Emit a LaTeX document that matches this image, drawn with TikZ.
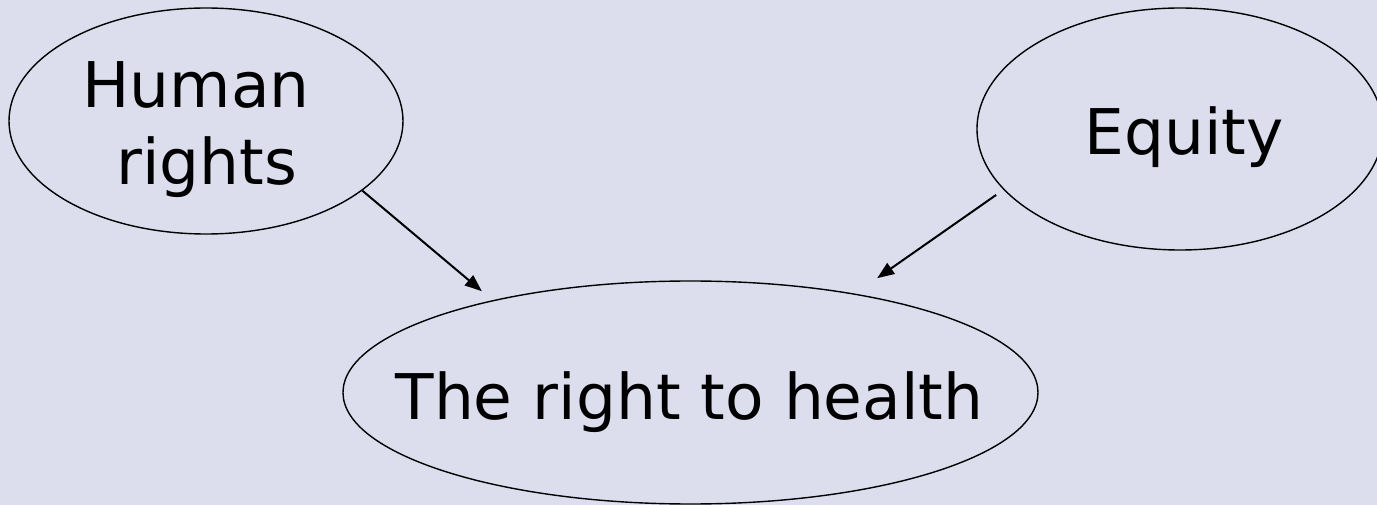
\documentclass[tikz,border=0pt]{standalone}
\usepackage{fontspec}
\setmainfont{DejaVu Sans}
\usetikzlibrary{arrows.meta,shapes.geometric}
\definecolor{bgc}{RGB}{220,222,238}
\tikzset{
  ell/.style={draw=black, line width=1.4pt, ellipse, inner sep=0pt},
  lbl/.style={anchor=base, inner sep=0pt, font=\fontsize{63}{77}\selectfont},
  arr/.style={draw=black, line width=2pt, -{Triangle[length=17pt,width=13pt]}}
}
\begin{document}
\begin{tikzpicture}[x=1pt,y=-1pt]
  \fill[bgc] (0,0) rectangle (1377,505);
  \useasboundingbox (0,0) rectangle (1377,505);
  \node[ell, minimum width=394pt, minimum height=226pt] (hr) at (206,121) {};
  \node[ell, minimum width=406pt, minimum height=242pt] (eq) at (1180,129) {};
  \node[ell, minimum width=695pt, minimum height=223pt] (rth) at (690.5,392.5) {};
  \node[lbl] (hrA) at (196,108) {Human};
  \node[lbl] (hrB) at (207,185) {rights};
  \node[lbl] (eqT) at (1184,155) {Equity};
  \node[lbl] (rthT) at (689.5,419) {The right to health};
  \draw[arr, shorten >=14pt] (hr.-24.4) -- (rth.155.4);
  \draw[arr, shorten <=9pt, shorten >=27pt] (eq.-161.9) -- (rth.31.9);
\end{tikzpicture}
\end{document}
